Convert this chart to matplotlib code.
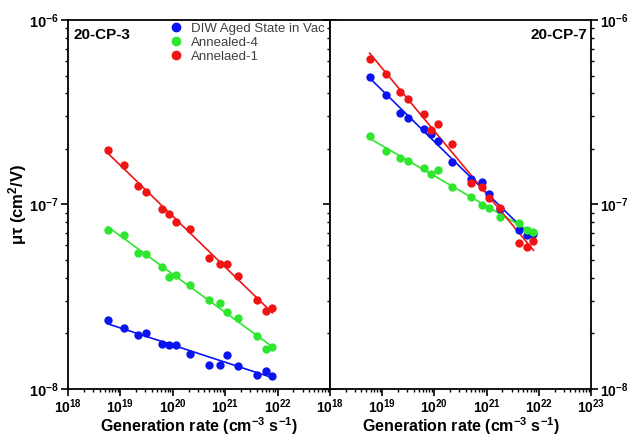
import matplotlib
matplotlib.use('Agg')
import matplotlib.pyplot as plt
from matplotlib.lines import Line2D
from matplotlib.ticker import LogLocator, NullFormatter
import numpy as np

plt.rcParams['font.family'] = ['Liberation Sans', 'DejaVu Sans']
plt.rcParams['font.weight'] = 'bold'
plt.rcParams['axes.labelweight'] = 'bold'
plt.rcParams['mathtext.default'] = 'regular'

# generation rate (cm^-3 s^-1), shared by every series
gen_rate = [5.75e18, 1.17e19, 2.19e19, 3.09e19, 6.3e19, 8.5e19, 1.17e20, 2.14e20,
            5.0e20, 8.1e20, 1.1e21, 1.78e21, 4.1e21, 5.9e21, 7.9e21]

# 20-CP-3
cp3_aged = [2.35e-8, 2.13e-8, 1.96e-8, 2.0e-8, 1.75e-8, 1.73e-8, 1.73e-8, 1.55e-8,
            1.35e-8, 1.35e-8, 1.52e-8, 1.33e-8, 1.19e-8, 1.25e-8, 1.17e-8]
cp3_ann4 = [7.3e-8, 6.85e-8, 5.48e-8, 5.41e-8, 4.6e-8, 4.06e-8, 4.17e-8, 3.64e-8,
            3.02e-8, 2.94e-8, 2.6e-8, 2.41e-8, 1.93e-8, 1.64e-8, 1.68e-8]
cp3_ann1 = [1.97e-7, 1.63e-7, 1.26e-7, 1.17e-7, 9.46e-8, 8.9e-8, 8.05e-8, 7.4e-8,
            5.15e-8, 4.78e-8, 4.78e-8, 4.12e-8, 3.02e-8, 2.63e-8, 2.73e-8]

# 20-CP-7
cp7_aged = [4.93e-7, 3.94e-7, 3.15e-7, 2.96e-7, 2.58e-7, 2.4e-7, 2.2e-7, 1.69e-7,
            1.38e-7, 1.33e-7, 1.14e-7, 9.46e-8, 7.3e-8, 6.85e-8, 6.9e-8]
cp7_ann4 = [2.34e-7, 1.94e-7, 1.78e-7, 1.72e-7, 1.57e-7, 1.46e-7, 1.53e-7, 1.24e-7,
            1.1e-7, 9.93e-8, 9.6e-8, 8.57e-8, 7.94e-8, 7.3e-8, 7.05e-8]
cp7_ann1 = [6.17e-7, 5.12e-7, 4.09e-7, 3.75e-7, 3.11e-7, 2.55e-7, 2.72e-7, 2.12e-7,
            1.31e-7, 1.24e-7, 1.08e-7, 9.57e-8, 6.2e-8, 5.9e-8, 6.35e-8]

labels = ['DIW Aged State in Vac', 'Annealed-4', 'Annelaed-1']
colors = ['#0a14f0', '#2ee62e', '#f01414']

x_exps = [18, 19, 20, 21, 22, 23]
y_exps = [-8, -7, -6]


def draw_panel(ax, series, name, side):
    x = np.array(gen_rate)
    for y, c in zip(series, colors):
        y = np.array(y)
        ax.scatter(x, y, s=36, color=c, zorder=3, linewidths=0)
        k, b = np.polyfit(np.log10(x), np.log10(y), 1)
        xf = np.array([x.min(), x.max()])
        ax.plot(xf, 10 ** (k * np.log10(xf) + b), color=c, lw=1.2, zorder=2)

    ax.set_xscale('log')
    ax.set_yscale('log')
    ax.set_xlim(1e18, 1e23)
    ax.set_ylim(1e-8, 1e-6)
    # left panel hides its 10^23 label, the right panel shows 10^18 there
    xe = x_exps[:-1] if side == 'left' else x_exps
    ax.set_xticks([10.0 ** e for e in xe])
    ax.set_xticklabels([r'$10^{%d}$' % e for e in xe])
    ax.set_yticks([10.0 ** e for e in y_exps])
    ax.set_yticklabels([r'$10^{%d}$' % e for e in y_exps])
    ax.xaxis.set_minor_locator(LogLocator(base=10, subs=np.arange(2, 10), numticks=20))
    ax.xaxis.set_minor_formatter(NullFormatter())
    ax.yaxis.set_minor_locator(LogLocator(base=10, subs=np.arange(2, 10), numticks=20))
    ax.yaxis.set_minor_formatter(NullFormatter())
    ax.tick_params(which='both', direction='out', top=False, left=True, right=True,
                   labelsize=10.5, width=1.2, pad=1.5)
    ax.tick_params(axis='x', labelsize=10, pad=1)
    ax.tick_params(which='major', length=5)
    ax.tick_params(which='minor', length=2.5, width=1)
    if side == 'right':
        ax.tick_params(axis='y', labelleft=False, labelright=True, labelsize=10)
    for sp in ax.spines.values():
        sp.set_linewidth(1.3)
    ax.set_xlabel('Generation rate (cm$^{-3}$ s$^{-1}$)', fontsize=11.5, labelpad=-0.5)
    if side == 'left':
        ax.text(0.02, 0.978, name, transform=ax.transAxes, fontsize=11,
                ha='left', va='top')
    else:
        ax.text(0.985, 0.978, name, transform=ax.transAxes, fontsize=11,
                ha='right', va='top')


fig = plt.figure(figsize=(6.28, 4.36), dpi=100)
ax1 = fig.add_axes([0.1083, 0.108, 0.4172, 0.846])
ax2 = fig.add_axes([0.5255, 0.108, 0.4156, 0.846])

draw_panel(ax1, [cp3_aged, cp3_ann4, cp3_ann1], '20-CP-3', 'left')
draw_panel(ax2, [cp7_aged, cp7_ann4, cp7_ann1], '20-CP-7', 'right')

ax1.set_ylabel('μτ (cm$^2$/V)', fontsize=12, labelpad=0)

handles = [Line2D([], [], marker='o', ls='none', color=c, markersize=6) for c in colors]
leg = ax1.legend(handles, labels, loc='upper right', bbox_to_anchor=(1.01, 1.015),
                 frameon=False, prop={'weight': 'normal', 'size': 9.5},
                 handletextpad=0.5, labelspacing=0.15, borderaxespad=0.2,
                 handlelength=1.2)
for t in leg.get_texts():
    t.set_color('#404040')

fig.savefig('out.png', dpi=100)
